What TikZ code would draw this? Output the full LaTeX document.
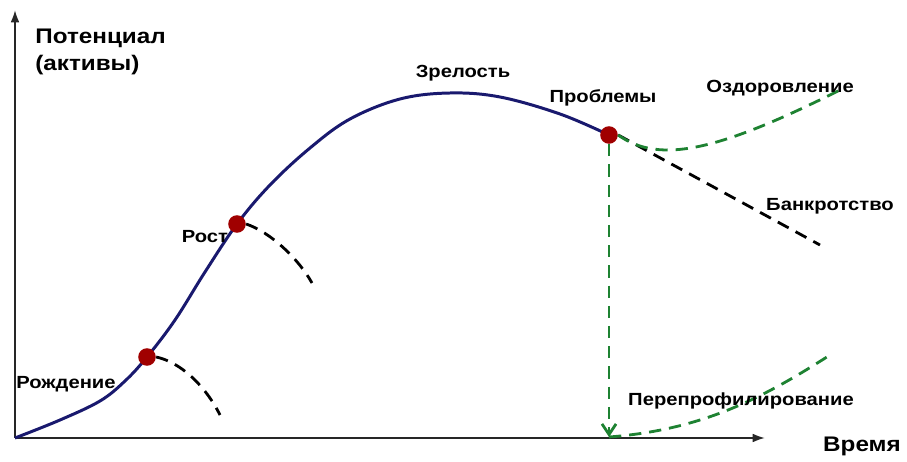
\documentclass[tikz,border=0pt]{standalone}
\usepackage{fontspec}
\setmainfont[FakeStretch=1.15]{Liberation Sans}
\usetikzlibrary{arrows.meta}

\definecolor{curveblue}{RGB}{25,25,110}
\definecolor{dotred}{RGB}{160,0,0}
\definecolor{dashgreen}{RGB}{30,130,50}

\tikzset{
	stage/.style={circle, fill=dotred, inner sep=0pt, minimum size=10pt},
	lbl/.style={font=\bfseries\fontsize{10}{12}\selectfont, inner sep=0pt},
	bigl/.style={font=\bfseries\fontsize{12}{15}\selectfont, inner sep=0pt},
	fail/.style={dashed, dash pattern=on 7pt off 4.5pt, line width=1.6pt, black},
	branch/.style={dashed, dash pattern=on 7pt off 4.5pt, line width=1.6pt, dashgreen}
}

\begin{document}
\begin{tikzpicture}[x=0.02cm, y=-0.02cm]

	\useasboundingbox (0,0) rectangle (907,462);

	% Axes
	\coordinate (origin) at (15,438);
	\draw[-{Latex[length=7pt,width=5pt]}, line width=1.1pt, black!85] (origin) -- (765,438);
	\draw[-{Latex[length=7pt,width=5pt]}, line width=1.1pt, black!85] (origin) -- (15,10);

	\node[bigl, anchor=west, align=left] (ylabel) at (35,52) {Потенциал\\(активы)};
	\node[bigl] (xlabel) at (862,446) {Время};

	% Life cycle curve
	\draw[line width=1.7pt, curveblue]
	plot[smooth, tension=0.6]
	coordinates {
		(15,438)
		(60,420)
		(100,401)
		(125,381)
		(147,357)
		(175,320)
		(205,272)
		(237,224)
		(270,185)
		(310,148)
		(350,119)
		(400,99)
		(450,93)
		(500,97)
		(560,114)
		(609,135)
	};

	% Stages
	\node[stage] (birth) at (147,357) {};
	\node[stage] (growth) at (237,224) {};
	\node[stage] (trouble) at (609,135) {};
	\coordinate (bottom) at (609,437);

	% Failed branches
	\draw[fail] (birth.east) .. controls (180,362) and (205,385) .. (220,415);
	\draw[fail] (growth.east) .. controls (270,232) and (298,258) .. (312,283);
	\draw[fail] (trouble.east) -- (820,245);

	% Ways out of the crisis
	\draw[branch] (trouble.east) .. controls (660,165) and (720,150) .. (840,90);
	\draw[branch, -{Straight Barb[length=6pt,width=8pt]}] (trouble.south) -- (bottom);
	\draw[branch] (bottom) .. controls (700,430) and (760,400) .. (830,355);

	% Labels
	\node[lbl] (lbirth) at (66,384) {Рождение};
	\node[lbl] (lgrowth) at (205,237) {Рост};
	\node[lbl] (lmature) at (463,73) {Зрелость};
	\node[lbl] (ltrouble) at (603,98) {Проблемы};
	\node[lbl] (lrecover) at (780,88) {Оздоровление};
	\node[lbl] (lbankrupt) at (830,206) {Банкротство};
	\node[lbl] (lreprofile) at (741,401) {Перепрофилирование};

\end{tikzpicture}
\end{document}
